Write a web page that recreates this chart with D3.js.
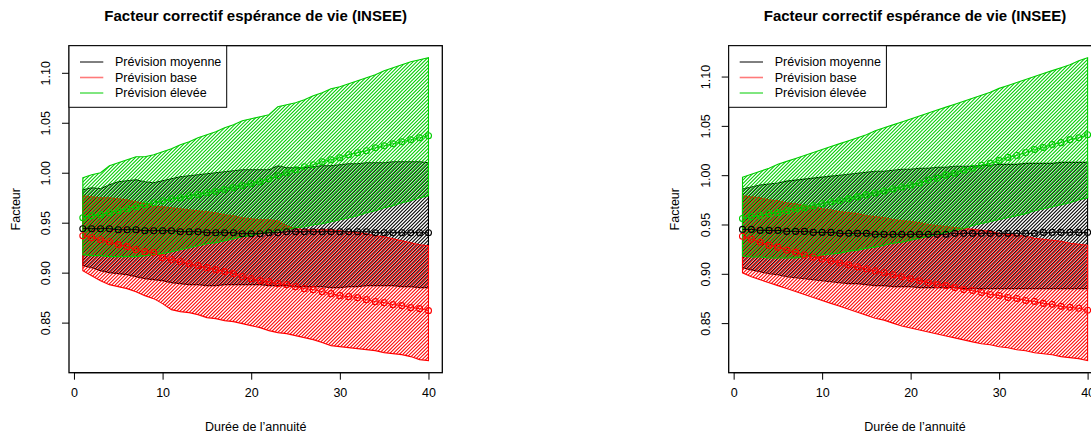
<!DOCTYPE html>
<html>
<head>
<meta charset="utf-8">
<script src="https://cdn.jsdelivr.net/npm/d3@7"></script>
<style>
  html, body { margin: 0; padding: 0; background: #fff; }
  svg { display: block; font-family: "Liberation Sans", Arial, Helvetica, sans-serif; }
</style>
</head>
<body>
<svg id="chart" width="1091" height="437"></svg>
<script>
// Durée de l'annuité (années)
const duree = d3.range(1, 41);

// ---- Panneau gauche ----
const gMoyCentre = [0.944,0.944,0.944,0.944,0.943,0.943,0.943,0.942,0.942,0.942,0.942,0.941,0.941,0.941,0.940,0.940,0.940,0.940,0.939,0.939,0.939,0.940,0.940,0.941,0.941,0.941,0.941,0.941,0.941,0.941,0.941,0.941,0.941,0.940,0.940,0.940,0.940,0.940,0.940,0.940];
const gMoyHaut   = [0.983,0.985,0.984,0.988,0.991,0.992,0.993,0.991,0.990,0.992,0.994,0.996,0.997,0.998,0.999,1.000,1.001,1.002,1.003,1.003,1.003,1.003,1.007,1.005,1.005,1.005,1.006,1.007,1.007,1.008,1.009,1.009,1.010,1.010,1.010,1.011,1.011,1.011,1.011,1.010];
const gMoyBas    = [0.907,0.905,0.902,0.900,0.899,0.898,0.896,0.894,0.893,0.892,0.890,0.889,0.888,0.888,0.887,0.887,0.888,0.888,0.888,0.888,0.888,0.887,0.887,0.887,0.886,0.886,0.886,0.886,0.885,0.885,0.886,0.886,0.887,0.887,0.887,0.887,0.886,0.886,0.885,0.885];
const gBaseCentre = [0.937,0.935,0.933,0.931,0.928,0.926,0.923,0.921,0.920,0.915,0.913,0.911,0.909,0.907,0.905,0.903,0.901,0.899,0.896,0.894,0.892,0.891,0.889,0.888,0.886,0.884,0.883,0.881,0.879,0.877,0.876,0.875,0.873,0.871,0.870,0.868,0.867,0.865,0.864,0.862];
const gBaseHaut   = [0.977,0.976,0.975,0.975,0.974,0.973,0.971,0.969,0.967,0.966,0.965,0.964,0.963,0.962,0.961,0.960,0.958,0.957,0.955,0.954,0.953,0.953,0.952,0.947,0.944,0.943,0.943,0.943,0.943,0.942,0.941,0.940,0.939,0.937,0.936,0.934,0.932,0.930,0.928,0.927];
const gBaseBas    = [0.902,0.897,0.892,0.888,0.886,0.884,0.881,0.877,0.874,0.869,0.863,0.861,0.860,0.858,0.855,0.854,0.852,0.851,0.849,0.847,0.845,0.842,0.840,0.839,0.837,0.835,0.833,0.830,0.827,0.826,0.825,0.824,0.823,0.822,0.820,0.819,0.818,0.816,0.813,0.812];
const gElevCentre = [0.955,0.957,0.958,0.960,0.962,0.964,0.966,0.968,0.970,0.972,0.974,0.975,0.977,0.978,0.980,0.981,0.983,0.985,0.987,0.989,0.991,0.994,0.997,1.000,1.003,1.006,1.008,1.011,1.013,1.015,1.018,1.020,1.022,1.025,1.027,1.029,1.031,1.033,1.035,1.037];
const gElevHaut   = [0.995,0.998,1.000,1.007,1.010,1.013,1.016,1.016,1.018,1.021,1.024,1.028,1.031,1.035,1.038,1.041,1.045,1.048,1.052,1.054,1.056,1.058,1.066,1.068,1.070,1.073,1.077,1.080,1.084,1.086,1.089,1.092,1.095,1.098,1.102,1.105,1.108,1.111,1.113,1.115];
const gElevBas    = [0.918,0.917,0.917,0.916,0.916,0.916,0.916,0.917,0.918,0.919,0.921,0.923,0.925,0.927,0.929,0.930,0.932,0.934,0.936,0.937,0.939,0.940,0.942,0.943,0.945,0.946,0.948,0.949,0.951,0.953,0.955,0.957,0.960,0.962,0.965,0.967,0.970,0.972,0.975,0.977];

// ---- Panneau droit ----
const dMoyCentre = [0.945,0.945,0.944,0.944,0.944,0.943,0.943,0.943,0.942,0.942,0.942,0.941,0.941,0.941,0.941,0.940,0.940,0.940,0.940,0.940,0.940,0.940,0.940,0.940,0.941,0.941,0.941,0.941,0.941,0.941,0.941,0.941,0.941,0.941,0.942,0.942,0.942,0.942,0.942,0.942];
const dMoyHaut   = [0.986,0.988,0.990,0.991,0.992,0.994,0.995,0.996,0.997,0.998,0.999,1.000,1.001,1.002,1.003,1.004,1.004,1.005,1.006,1.006,1.007,1.007,1.008,1.008,1.009,1.009,1.009,1.010,1.010,1.011,1.011,1.011,1.012,1.012,1.012,1.012,1.013,1.013,1.013,1.013];
const dMoyBas    = [0.906,0.904,0.902,0.900,0.899,0.897,0.896,0.895,0.894,0.893,0.892,0.891,0.890,0.890,0.889,0.888,0.888,0.887,0.887,0.887,0.886,0.886,0.886,0.886,0.886,0.885,0.885,0.885,0.885,0.885,0.885,0.885,0.885,0.885,0.885,0.885,0.885,0.885,0.885,0.885];
const dBaseCentre = [0.938,0.935,0.932,0.929,0.927,0.924,0.922,0.919,0.917,0.915,0.913,0.911,0.909,0.907,0.905,0.903,0.901,0.899,0.897,0.895,0.893,0.891,0.889,0.888,0.886,0.884,0.883,0.881,0.879,0.878,0.876,0.875,0.873,0.872,0.870,0.869,0.867,0.866,0.865,0.863];
const dBaseHaut   = [0.979,0.978,0.977,0.975,0.974,0.972,0.971,0.969,0.968,0.966,0.965,0.963,0.962,0.961,0.959,0.958,0.957,0.955,0.954,0.953,0.952,0.950,0.949,0.948,0.947,0.946,0.945,0.944,0.943,0.941,0.940,0.939,0.938,0.936,0.935,0.934,0.933,0.931,0.930,0.929];
const dBaseBas    = [0.901,0.897,0.894,0.891,0.888,0.885,0.882,0.879,0.876,0.873,0.870,0.867,0.864,0.861,0.858,0.855,0.853,0.850,0.847,0.845,0.843,0.841,0.839,0.837,0.835,0.833,0.831,0.829,0.828,0.826,0.825,0.823,0.822,0.820,0.819,0.818,0.816,0.815,0.814,0.812];
const dElevCentre = [0.956,0.958,0.959,0.961,0.962,0.964,0.966,0.967,0.969,0.971,0.973,0.974,0.976,0.978,0.980,0.982,0.984,0.986,0.988,0.990,0.992,0.995,0.997,1.000,1.002,1.005,1.007,1.010,1.012,1.015,1.018,1.020,1.023,1.026,1.028,1.031,1.033,1.036,1.038,1.041];
const dElevHaut   = [0.998,1.001,1.004,1.007,1.011,1.014,1.017,1.020,1.023,1.026,1.029,1.032,1.035,1.038,1.041,1.045,1.048,1.051,1.054,1.057,1.060,1.063,1.066,1.069,1.072,1.075,1.078,1.081,1.084,1.088,1.091,1.094,1.097,1.100,1.103,1.106,1.109,1.112,1.116,1.119];
const dElevBas    = [0.918,0.917,0.917,0.916,0.916,0.916,0.916,0.917,0.918,0.919,0.920,0.921,0.923,0.924,0.926,0.927,0.929,0.931,0.932,0.934,0.936,0.938,0.940,0.942,0.944,0.946,0.949,0.951,0.953,0.955,0.957,0.959,0.961,0.964,0.966,0.968,0.970,0.972,0.975,0.977];

const xTicks = [0, 10, 20, 30, 40];
const yTicks = [0.85, 0.90, 0.95, 1.00, 1.05, 1.10];
const legendLabels = ["Prévision moyenne", "Prévision base", "Prévision élevée"];
const titre = "Facteur correctif espérance de vie (INSEE)";
const xTitre = "Durée de l’annuité";
const yTitre = "Facteur";

const couleurs = { moy: "#000000", base: "#ff0000", elev: "#00cd00" };
const legendColors = ["#000000", "#ff7a7a", "#00cd00"];

const panneaux = [
  { left: 69, right: 442.3, series: [
      { key: "moy",  c: gMoyCentre,  h: gMoyHaut,  b: gMoyBas,  off: 0 },
      { key: "base", c: gBaseCentre, h: gBaseHaut, b: gBaseBas, off: 1.2 },
      { key: "elev", c: gElevCentre, h: gElevHaut, b: gElevBas, off: 2.4 } ] },
  { left: 728.7, right: 1101.4, series: [
      { key: "moy",  c: dMoyCentre,  h: dMoyHaut,  b: dMoyBas,  off: 0 },
      { key: "base", c: dBaseCentre, h: dBaseHaut, b: dBaseBas, off: 1.2 },
      { key: "elev", c: dElevCentre, h: dElevHaut, b: dElevBas, off: 2.4 } ] }
];

const plotTop = 45.7, plotBottom = 372.7;
const svg = d3.select("#chart");
const defs = svg.append("defs");
const hatchStep = 3.5; // horizontal spacing of the 45° shading lines

panneaux.forEach((p, pi) => {
  // R-style axis ranges: data extent widened by 4 % on each side
  const xExt = d3.extent(duree);
  const xPad = (xExt[1] - xExt[0]) * 0.04;
  const x = d3.scaleLinear().domain([xExt[0] - xPad, xExt[1] + xPad]).range([p.left, p.right]);
  const allY = p.series.flatMap(s => s.c.concat(s.h, s.b));
  const yExt = d3.extent(allY);
  const yPad = (yExt[1] - yExt[0]) * 0.04;
  const y = d3.scaleLinear().domain([yExt[0] - yPad, yExt[1] + yPad]).range([plotBottom, plotTop]);

  const g = svg.append("g");

  // shaded bands
  p.series.forEach((s, si) => {
    const poly = duree.map((d, i) => [x(d), y(s.h[i])])
      .concat(duree.slice().reverse().map((d, k) => [x(d), y(s.b[duree.length - 1 - k])]));
    const id = `clip-${pi}-${si}`;
    defs.append("clipPath").attr("id", id)
      .append("path").attr("d", d3.line()(poly) + "Z");
    const xs = poly.map(q => q[0]), ys = poly.map(q => q[1]);
    const x0 = d3.min(xs), x1 = d3.max(xs), y0 = d3.min(ys), y1 = d3.max(ys);
    const hg = g.append("g").attr("clip-path", `url(#${id})`);
    // lines x + y = k
    const kStart = Math.floor((x0 + y0) / hatchStep) * hatchStep + s.off;
    const segs = [];
    for (let k = kStart - hatchStep; k <= x1 + y1 + hatchStep; k += hatchStep) {
      segs.push(k);
    }
    hg.selectAll("line").data(segs).join("line")
      .attr("x1", k => k - y1 - 2).attr("y1", y1 + 2)
      .attr("x2", k => k - y0 + 2).attr("y2", y0 - 2)
      .attr("stroke", couleurs[s.key]).attr("stroke-width", 1.05);
    g.append("path").attr("d", d3.line()(poly) + "Z")
      .attr("fill", "none").attr("stroke", couleurs[s.key]).attr("stroke-width", 1.1);
  });

  // centre lines with open circles
  p.series.forEach(s => {
    const line = d3.line().x((d, i) => x(duree[i])).y(d => y(d));
    g.append("path").attr("d", line(s.c)).attr("fill", "none")
      .attr("stroke", couleurs[s.key]).attr("stroke-width", 1);
    g.selectAll(null).data(s.c).join("circle")
      .attr("cx", (d, i) => x(duree[i])).attr("cy", d => y(d)).attr("r", 3)
      .attr("fill", "none").attr("stroke", couleurs[s.key]).attr("stroke-width", 1.1);
  });

  // plot box
  g.append("rect").attr("x", p.left).attr("y", plotTop)
    .attr("width", p.right - p.left).attr("height", plotBottom - plotTop)
    .attr("fill", "none").attr("stroke", "#000").attr("stroke-width", 1.3);

  // x axis
  const ax = g.append("g").attr("transform", `translate(0,${plotBottom})`)
    .call(d3.axisBottom(x).tickValues(xTicks).tickSize(7).tickPadding(4).tickFormat(d3.format("d")));
  ax.select(".domain").remove();
  ax.selectAll("text").attr("font-size", 12.5).attr("font-family", null).attr("dy", "1.05em").attr("fill", "#000");
  ax.append("path").attr("d", `M${x(xTicks[0])},0H${x(xTicks[xTicks.length - 1])}`).attr("stroke", "#000");

  // y axis
  const ay = g.append("g").attr("transform", `translate(${p.left},0)`)
    .call(d3.axisLeft(y).tickValues(yTicks).tickSize(7).tickFormat(d3.format(".2f")));
  ay.select(".domain").remove();
  ay.selectAll("text").attr("font-size", 12.5).attr("font-family", null).attr("fill", "#000")
    .attr("text-anchor", "middle").attr("x", 0).attr("y", -19).attr("dy", null)
    .attr("transform", "rotate(-90)");

  // titles
  const cx = (p.left + p.right) / 2;
  g.append("text").attr("x", cx).attr("y", 21).attr("text-anchor", "middle")
    .attr("font-size", 15).attr("font-weight", "bold").text(titre);
  g.append("text").attr("x", cx).attr("y", 431).attr("text-anchor", "middle")
    .attr("font-size", 12.5).text(xTitre);
  g.append("text").attr("transform", `translate(${p.left - 49.5},${(plotTop + plotBottom) / 2}) rotate(-90)`)
    .attr("text-anchor", "middle").attr("font-size", 12.5).text(yTitre);

  // legend
  const lg = g.append("g").attr("transform", `translate(${p.left},${plotTop})`);
  lg.append("rect").attr("x", 0).attr("y", 0).attr("width", 157.7).attr("height", 61.6)
    .attr("fill", "#fff").attr("stroke", "#000").attr("stroke-width", 1);
  legendLabels.forEach((lab, i) => {
    const yy = 16.3 + i * 15.5;
    lg.append("line").attr("x1", 11).attr("x2", 34.3).attr("y1", yy).attr("y2", yy)
      .attr("stroke", legendColors[i]).attr("stroke-width", i === 1 ? 1.6 : 1);
    lg.append("text").attr("x", 46).attr("y", yy + 4.4).attr("font-size", 12.5).text(lab);
  });
});
</script>
</body>
</html>
